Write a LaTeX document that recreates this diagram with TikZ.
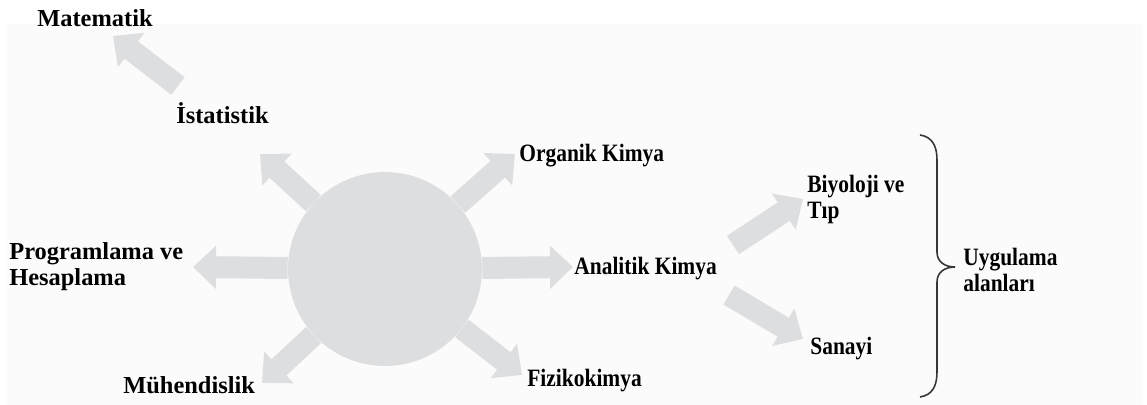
\documentclass[tikz,border=0pt]{standalone}
\usepackage{fontspec}
\setmainfont{Liberation Serif}
\newfontfamily\condfont[FakeStretch=0.86]{Liberation Serif}
\usetikzlibrary{arrows.meta,positioning}
\definecolor{armgray}{RGB}{221,222,224}
\definecolor{bggray}{RGB}{251,251,251}
\definecolor{bracegray}{RGB}{55,55,55}

\begin{document}
\begin{tikzpicture}[
	x=0.02cm, y=-0.02cm,
	every node/.style = {inner sep=0pt, align=left},
	lbl/.style = {font=\bfseries\fontsize{13.9}{14.8}\selectfont, anchor=base west},
	lblsm/.style = {font=\condfont\bfseries\fontsize{14.2}{15.3}\selectfont, anchor=base west},
	fat/.style = {draw=armgray, line width=0.44cm,
		-{Triangle[length=0.46cm, width=0.84cm]}}
]
\useasboundingbox (0,0) rectangle (1147,405);
\fill[bggray] (7,24) rectangle (1142,405);

% hub and what comes out of it
\node[circle, fill=armgray, minimum size=3.88cm] (hub) at (385,269) {};

\node[lbl] (mat) at (37,27) {Matematik};
\node[lbl] (ist) at (176,124) {İstatistik};
\node[lblsm] (org) at (519,162) {Organik Kimya};
\node[lbl] (prog) at (9,286) {Programlama ve\\Hesaplama};
\node[lblsm] (ana) at (574,275) {Analitik Kimya};
\node[lblsm] (fiz) at (527,387) {Fizikokimya};
\node[lbl] (muh) at (123,394) {Mühendislik};
\node[lblsm] (bio) at (807,219) {Biyoloji ve\\Tıp};
\node[lblsm] (san) at (810,355) {Sanayi};
\node[lblsm] (uyg) at (963,292) {Uygulama\\alanları};

% arrow ends
\coordinate (tIst) at (260,154);
\coordinate (tOrg) at (515,154);
\coordinate (tProg) at (193,267);
\coordinate (tAna) at (573,267);
\coordinate (tMuh) at (262,383);
\coordinate (tFiz) at (522,375);
\coordinate (sMat) at (178,86);
\coordinate (tMat) at (113,36);
\coordinate (sBio) at (733,245);
\coordinate (tBio) at (803,199);
\coordinate (sSan) at (729,295);
\coordinate (tSan) at (803,339);

\draw[fat] (hub) -- (tIst);
\draw[fat] (hub) -- (tOrg);
\draw[fat] (hub) -- (tProg);
\draw[fat] (hub) -- (tAna);
\draw[fat] (hub) -- (tMuh);
\draw[fat] (hub) -- (tFiz);
\draw[fat] (sMat) -- (tMat);
\draw[fat] (sBio) -- (tBio);
\draw[fat] (sSan) -- (tSan);

% brace round the fields
\draw[bracegray, line width=0.9pt] (920,135) .. controls (933,137) and (937,147) .. (937,160)
	-- (937,252) .. controls (937,262) and (945,267) .. (955,267)
	.. controls (945,267) and (937,272) .. (937,282)
	-- (937,372) .. controls (937,385) and (933,395) .. (920,397);
\end{tikzpicture}
\end{document}
